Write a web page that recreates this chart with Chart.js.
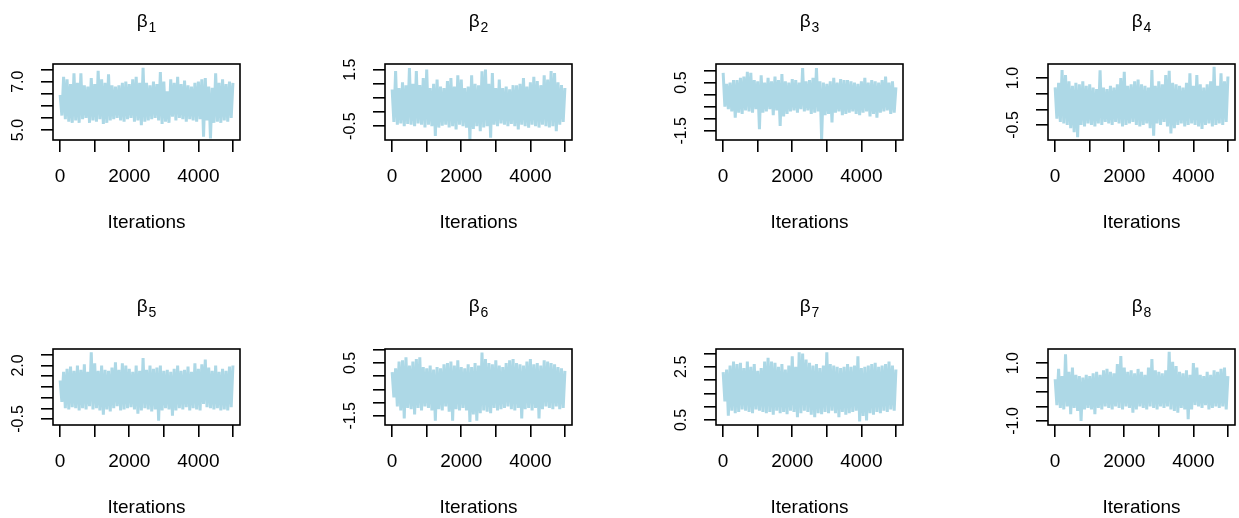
<!DOCTYPE html>
<html>
<head>
<meta charset="utf-8">
<script src="https://cdn.jsdelivr.net/npm/chart.js@4.4.1/dist/chart.umd.min.js"></script>
<style>
html, body { margin:0; padding:0; background:#fff; overflow:hidden; width:1239px; height:518px; }
canvas.panel { position:absolute; }
</style>
</head>
<body>
<script>
// iterations axis
var iterTicks = [0, 1000, 2000, 3000, 4000, 5000]
var iterLabels = [0, 2000, 4000]

// trace envelopes: hi at 0,100,..,5000 ; lo at 50,150,..,4950
var b1Hi = [6.45,7.2,7.1,6.9,7.35,6.95,7.35,6.85,6.8,7.15, 6.9,7.45,7.1,6.95,7.3,6.85,6.8,6.85,6.95,7.0, 6.9,7.1,7.2,6.95,7.57,6.95,6.85,7.0,6.9,7.4, 7.0,6.6,7.1,6.95,7.2,6.9,7.05,6.85,6.8,6.95, 7.0,7.1,7.15,6.8,6.75,7.35,6.95,7.1,6.9,7.0, 6.95]
var b1Lo = [5.6,5.45,5.35,5.3,5.4,5.3,5.45,5.5,5.3,5.4, 5.35,5.45,5.25,5.3,5.4,5.45,5.5,5.4,5.35,5.45, 5.5,5.35,5.4,5.2,5.35,5.4,5.45,5.5,5.4,5.25, 5.35,5.3,5.55,5.4,5.5,5.45,5.35,5.45,5.4,5.35, 5.45,4.73,5.4,4.65,5.3,5.35,5.3,5.4,5.35,5.5]

var b2Hi = [0.8,1.45,0.85,1.05,0.95,1.56,1.0,1.45,0.95,1.2, 1.5,0.85,1.0,1.15,0.9,0.85,1.1,1.2,0.9,1.3, 1.15,0.85,0.9,1.3,1.0,0.95,1.44,1.5,1.0,1.38, 0.85,1.15,0.85,0.9,0.8,0.95,0.95,1.0,1.2,0.9, 1.05,1.25,1.1,0.95,1.3,1.15,1.45,1.38,1.05,0.95, 0.85]
var b2Lo = [-0.35,-0.45,-0.4,-0.5,-0.42,-0.45,-0.5,-0.4,-0.45,-0.55, -0.45,-0.5,-0.85,-0.55,-0.48,-0.45,-0.55,-0.5,-0.62,-0.45, -0.5,-0.55,-0.97,-0.6,-0.5,-0.68,-0.55,-0.5,-0.91,-0.45, -0.5,-0.4,-0.45,-0.5,-0.42,-0.5,-0.62,-0.45,-0.5,-0.55, -0.45,-0.5,-0.55,-0.45,-0.5,-0.55,-0.5,-0.68,-0.45,-0.35]

var b3Hi = [0.9,0.45,0.5,0.6,0.6,0.7,0.75,0.95,0.9,0.6, 0.55,0.8,0.5,0.7,0.55,0.75,0.6,0.85,0.55,0.5, 0.65,0.6,0.5,1.1,0.55,0.6,0.7,1.1,0.55,0.5, 0.45,0.55,0.7,0.5,0.65,0.6,0.6,0.55,0.5,0.45, 0.55,0.7,0.5,0.6,0.55,0.5,0.6,0.75,0.5,0.55, 0.3]
var b3Lo = [-0.5,-0.6,-0.7,-0.95,-0.75,-0.8,-0.65,-0.7,-0.75,-0.6, -1.43,-0.75,-0.7,-0.6,-0.85,-0.65,-1.3,-0.9,-0.8,-0.7, -0.65,-0.75,-0.6,-0.7,-0.65,-0.8,-0.75,-0.7,-1.85,-0.85, -0.8,-1.15,-0.75,-0.7,-0.85,-0.8,-0.75,-0.7,-0.8,-0.85, -0.75,-0.7,-0.9,-0.8,-0.95,-0.75,-0.7,-0.65,-0.8,-0.75]

var b4Hi = [0.7,0.85,1.26,1.1,0.9,0.75,0.85,0.8,0.9,0.75, 0.8,0.7,0.65,1.25,0.7,0.65,0.75,0.7,0.8,1.0, 1.2,0.75,0.8,0.9,0.95,0.8,0.75,0.7,1.26,0.75, 0.9,0.8,1.1,1.23,0.85,0.8,0.75,0.7,0.85,1.15, 0.75,1.1,0.8,0.7,0.8,0.9,1.36,0.75,1.15,0.9, 1.05]
var b4Lo = [-0.3,-0.4,-0.45,-0.5,-0.6,-0.73,-0.89,-0.5,-0.55,-0.45, -0.5,-0.55,-0.45,-0.5,-0.4,-0.45,-0.5,-0.4,-0.45,-0.55, -0.5,-0.45,-0.4,-0.5,-0.55,-0.5,-0.45,-0.6,-0.84,-0.45, -0.5,-0.4,-0.55,-0.77,-0.6,-0.5,-0.45,-0.55,-0.5,-0.45, -0.5,-0.55,-0.63,-0.5,-0.45,-0.55,-0.5,-0.45,-0.5,-0.4]

var b5Hi = [1.3,1.7,1.85,1.95,1.75,2.0,1.8,2.05,1.7,2.62, 2.1,1.75,2.0,1.8,1.75,1.9,2.15,1.8,2.1,2.0, 1.85,1.7,2.0,1.75,2.35,1.8,2.0,1.85,1.9,2.0, 1.75,1.8,1.7,1.85,2.0,1.75,1.8,1.95,1.7,2.1, 1.85,2.05,2.28,1.9,1.75,2.0,1.7,1.85,1.75,1.95, 2.0]
var b5Lo = [0.3,0.0,-0.05,0.05,0.0,-0.1,0.0,-0.05,0.1,-0.05, 0.0,-0.1,-0.3,-0.05,-0.15,0.0,0.1,-0.1,-0.05,0.0, 0.05,-0.05,-0.25,-0.1,0.0,-0.05,-0.15,-0.05,-0.58,-0.1, 0.0,-0.05,-0.35,-0.1,0.0,-0.05,0.05,-0.1,0.0,-0.05, -0.1,0.2,0.05,0.0,-0.05,0.0,-0.1,-0.05,-0.1,0.05]

var b6Hi = [0.15,0.3,0.55,0.6,0.72,0.4,0.55,0.65,0.72,0.35, 0.3,0.4,0.25,0.35,0.3,0.45,0.5,0.55,0.4,0.6, 0.35,0.3,0.45,0.35,0.5,0.4,0.9,0.65,0.5,0.45, 0.6,0.4,0.35,0.5,0.6,0.65,0.5,0.45,0.4,0.55, 0.65,0.45,0.5,0.4,0.6,0.55,0.5,0.45,0.35,0.3, 0.2]
var b6Lo = [-0.8,-1.15,-1.3,-1.6,-1.2,-1.25,-1.45,-1.2,-1.3,-1.15, -1.2,-1.3,-1.69,-1.25,-1.3,-1.15,-1.35,-1.69,-1.25,-1.3, -1.2,-1.3,-1.73,-1.45,-1.69,-1.4,-1.3,-1.35,-1.4,-1.2, -1.3,-1.25,-1.2,-1.15,-1.25,-1.3,-1.2,-1.6,-1.25,-1.2, -1.3,-1.2,-1.6,-1.25,-1.15,-1.2,-1.25,-1.15,-1.25,-1.2]

var b7Hi = [2.3,2.4,2.55,2.7,2.6,2.65,2.45,2.7,2.5,2.6, 2.35,2.45,2.7,2.84,2.7,2.65,2.5,2.6,2.4,2.55, 2.9,2.5,3.05,3.0,2.77,2.65,2.55,2.6,2.45,2.55, 3.05,2.6,2.55,2.5,2.45,2.5,2.6,2.5,2.55,2.9, 2.45,2.5,2.55,2.6,2.65,2.5,2.55,2.6,2.7,2.55, 2.4]
var b7Lo = [1.2,0.66,0.85,0.75,0.8,0.9,0.85,0.8,0.75,0.9, 0.85,0.8,0.75,0.8,0.7,0.85,0.75,0.8,0.72,0.85, 0.8,0.6,0.75,0.85,0.8,0.7,0.6,0.75,0.72,0.8, 0.75,0.85,0.75,0.6,0.8,0.7,0.75,0.8,0.85,0.44, 0.65,0.48,0.75,0.7,0.8,0.75,0.85,0.8,0.9,0.85]

var b8Hi = [0.45,0.8,0.55,1.31,0.7,0.85,0.6,0.55,0.5,0.6, 0.55,0.65,0.7,0.6,0.75,0.8,0.7,0.65,0.97,1.25, 0.85,0.7,0.75,0.65,0.8,0.7,0.6,0.85,1.14,0.75, 0.7,0.65,0.75,1.39,1.05,0.9,0.7,0.65,0.75,0.6, 1.0,0.85,0.6,0.55,0.7,0.6,0.75,0.7,0.8,0.85, 0.55]
var b8Lo = [-0.45,-0.55,-0.6,-0.5,-0.77,-0.55,-0.65,-1.0,-0.6,-0.55, -0.6,-0.77,-0.55,-0.6,-0.5,-0.55,-0.6,-0.5,-0.55,-0.6, -0.5,-0.55,-0.71,-0.6,-0.5,-0.55,-0.6,-0.5,-0.55,-0.6, -0.5,-0.55,-0.5,-0.6,-0.65,-0.71,-0.55,-0.6,-0.94,-0.6, -0.45,-0.5,-0.55,-0.45,-0.6,-0.55,-0.5,-0.55,-0.5,-0.6]

// y axes: ticks, labelled ticks, visible range
var yTicks1 = [5.0,5.5,6.0,6.5,7.0,7.5],   yLabels1 = [5.0,7.0],   yRange1 = [4.59,7.73]
var yTicks2 = [-0.5,0.0,0.5,1.0,1.5],      yLabels2 = [-0.5,1.5],  yRange2 = [-0.99,1.70]
var yTicks3 = [-1.5,-1.0,-0.5,0.0,0.5,1.0],yLabels3 = [-1.5,0.5],  yRange3 = [-1.88,1.27]
var yTicks4 = [-0.5,0.0,0.5,1.0],          yLabels4 = [-0.5,1.0],  yRange4 = [-0.98,1.45]
var yTicks5 = [-0.5,0.0,0.5,1.0,1.5,2.0,2.5], yLabels5 = [-0.5,2.0], yRange5 = [-0.78,2.77]
var yTicks6 = [-1.5,-1.0,-0.5,0.0,0.5,1.0],yLabels6 = [-1.5,0.5],  yRange6 = [-1.85,1.03]
var yTicks7 = [0.5,1.0,1.5,2.0,2.5,3.0],   yLabels7 = [0.5,2.5],   yRange7 = [0.31,3.17]
var yTicks8 = [-1.0,-0.5,0.0,0.5,1.0],     yLabels8 = [-1.0,1.0],  yRange8 = [-1.14,1.49]

var subs = ["1","2","3","4","5","6","7","8"]
var colLeft = [0, 332, 663, 995]
var rowTop = [0, 285]
var FONT = '"Liberation Sans", Arial, sans-serif'

var rPlot = {
  id: 'rPlot',
  afterDraw: function(chart){
    var ctx = chart.ctx
    var a = chart.chartArea
    var o = chart.options.plugins.rPlot
    var ys = chart.scales.y
    ctx.save()
    ctx.strokeStyle = '#000'
    ctx.lineWidth = 1.6
    ctx.strokeRect(Math.round(a.left), Math.round(a.top), Math.round(a.right - a.left), Math.round(a.bottom - a.top))

    ctx.fillStyle = '#000'
    // rotated y labels
    ctx.font = '16px ' + FONT
    ctx.textAlign = 'center'
    ctx.textBaseline = 'middle'
    o.yLabels.forEach(function(v){
      var y = ys.getPixelForValue(v)
      ctx.save()
      ctx.translate(a.left - 34, y)
      ctx.rotate(-Math.PI / 2)
      ctx.fillText(v.toFixed(1), 0, 0)
      ctx.restore()
    })

    // title beta with subscript
    var cx = (a.left + a.right) / 2
    ctx.textAlign = 'left'
    ctx.textBaseline = 'alphabetic'
    ctx.font = '19px ' + FONT
    var w1 = ctx.measureText('β').width
    ctx.font = '14px ' + FONT
    var w2 = ctx.measureText(o.sub).width
    var x0 = cx - (w1 + w2 + 1) / 2
    ctx.font = '19px ' + FONT
    ctx.fillText('β', x0, a.top - 37)
    ctx.font = '14px ' + FONT
    ctx.fillText(o.sub, x0 + w1 + 1, a.top - 32)

    // x axis title
    ctx.font = '19px ' + FONT
    ctx.textAlign = 'center'
    ctx.textBaseline = 'middle'
    ctx.fillText('Iterations', cx, a.bottom + 83)
    ctx.restore()
  }
}

function makePanel(n, hi, lo, yRange, yTicks, yLabels){
  var cv = document.createElement('canvas')
  cv.className = 'panel'
  cv.width = 246
  cv.height = 285
  cv.style.left = colLeft[n % 4] + 'px'
  cv.style.top = rowTop[Math.floor(n / 4)] + 'px'
  document.body.appendChild(cv)

  // zigzag between the upper and lower trace values
  var pts = []
  for (var i = 0; i < lo.length; i++){
    pts.push({x: i * 100, y: hi[i]})
    pts.push({x: i * 100 + 50, y: lo[i]})
  }
  pts.push({x: (hi.length - 1) * 100, y: hi[hi.length - 1]})

  new Chart(cv, {
    type: 'line',
    data: { datasets: [{ data: pts, borderColor: '#add8e6', borderWidth: 3, borderJoinStyle: 'bevel', pointRadius: 0, tension: 0, fill: false }] },
    options: {
      responsive: false,
      animation: false,
      events: [],
      layout: { padding: { top: 64, left: 0, right: 2, bottom: 0 } },
      plugins: {
        legend: { display: false },
        tooltip: { enabled: false },
        rPlot: { yLabels: yLabels, sub: subs[n] }
      },
      scales: {
        x: {
          type: 'linear', min: -207, max: 5207,
          afterBuildTicks: function(s){ s.ticks = iterTicks.map(function(v){ return {value: v} }) },
          afterFit: function(s){ s.height = 145 },
          grid: { drawOnChartArea: false, drawTicks: true, tickLength: 12, color: '#000', lineWidth: 1.6 },
          border: { display: false },
          ticks: {
            autoSkip: false, maxRotation: 0, minRotation: 0, padding: 13, color: '#000',
            font: { family: FONT, size: 19 },
            callback: function(v){ return iterLabels.indexOf(v) >= 0 ? String(v) : '' }
          }
        },
        y: {
          type: 'linear', min: yRange[0], max: yRange[1],
          afterBuildTicks: function(s){ s.ticks = yTicks.map(function(v){ return {value: v} }) },
          afterFit: function(s){ s.width = 53 },
          grid: { drawOnChartArea: false, drawTicks: true, tickLength: 12, color: '#000', lineWidth: 1.6 },
          border: { display: false },
          ticks: { display: false }
        }
      }
    },
    plugins: [rPlot]
  })
}

makePanel(0, b1Hi, b1Lo, yRange1, yTicks1, yLabels1)
makePanel(1, b2Hi, b2Lo, yRange2, yTicks2, yLabels2)
makePanel(2, b3Hi, b3Lo, yRange3, yTicks3, yLabels3)
makePanel(3, b4Hi, b4Lo, yRange4, yTicks4, yLabels4)
makePanel(4, b5Hi, b5Lo, yRange5, yTicks5, yLabels5)
makePanel(5, b6Hi, b6Lo, yRange6, yTicks6, yLabels6)
makePanel(6, b7Hi, b7Lo, yRange7, yTicks7, yLabels7)
makePanel(7, b8Hi, b8Lo, yRange8, yTicks8, yLabels8)
</script>
</body>
</html>
